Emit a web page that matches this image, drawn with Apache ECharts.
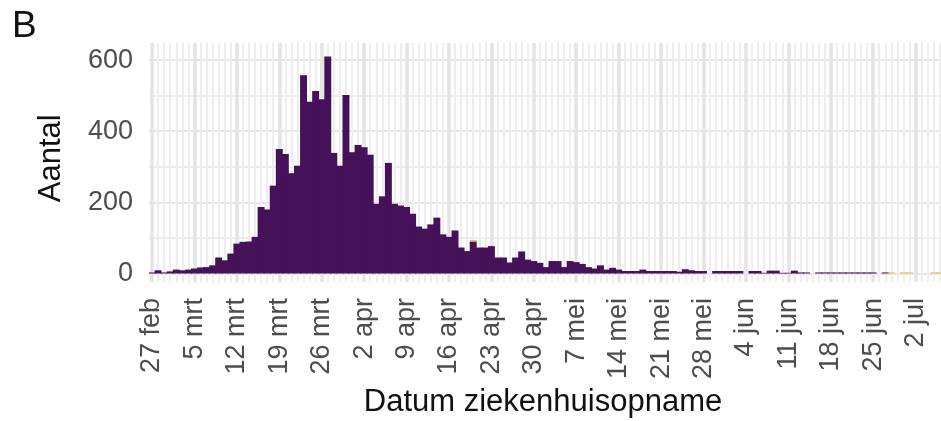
<!DOCTYPE html>
<html>
<head>
<meta charset="utf-8">
<script src="https://cdn.jsdelivr.net/npm/echarts@6/dist/echarts.min.js"></script>
<style>
  html, body { margin: 0; padding: 0; background: #fff; }
  #chart { width: 941px; height: 421px; }
</style>
</head>
<body>
<div id="chart"></div>
<script>
// daily hospital admissions, index 0 = 27 feb
const purple = [
  3, 9, 3, 6, 11, 9, 11, 14, 17, 18, 23, 45, 37, 56, 84, 89, 90, 103, 187, 180,
  247, 350, 336, 282, 303, 557, 483, 513, 490, 610, 339, 303, 502, 341, 361, 355, 334, 196, 217, 311,
  196, 191, 187, 168, 132, 126, 138, 157, 110, 103, 121, 73, 63, 90, 73, 73, 77, 45, 45, 31,
  45, 62, 39, 35, 30, 18, 35, 35, 18, 35, 32, 27, 18, 14, 23, 11, 16, 11, 7, 7,
  7, 11, 7, 7, 7, 7, 7, 5, 12, 9, 7, 7, 0, 7, 7, 7, 7, 7, 0, 7,
  7, 2, 8, 8, 2, 2, 8, 3, 3, 0, 3, 3, 3, 3, 3, 3, 3, 3, 3, 3,
  0, 3, 0, 0, 0, 0, 0, 0, 0, 0, 0
];
// not yet reported (orange)
const orange = [
  0, 0, 0, 0, 0, 0, 0, 0, 0, 0, 0, 0, 0, 0, 0, 0, 0, 0, 0, 0,
  0, 0, 0, 0, 0, 0, 0, 0, 0, 0, 0, 0, 0, 0, 0, 0, 0, 0, 0, 0,
  0, 0, 0, 0, 0, 0, 0, 0, 0, 0, 0, 0, 0, 4, 0, 0, 0, 0, 0, 0,
  0, 0, 0, 0, 0, 0, 0, 0, 0, 0, 0, 0, 0, 0, 0, 0, 0, 0, 0, 0,
  0, 0, 0, 0, 0, 0, 0, 0, 0, 0, 0, 0, 0, 0, 0, 0, 0, 0, 0, 0,
  0, 0, 0, 0, 0, 0, 0, 0, 0, 0, 0, 0, 0, 0, 0, 0, 0, 0, 0, 0,
  0, 0, 3, 0, 3, 3, 0, 0, 0, 3, 3
];
// one label per week, starting at day 0
const tickLabels = ['27 feb', '5 mrt', '12 mrt', '19 mrt', '26 mrt', '2 apr', '9 apr', '16 apr', '23 apr',
  '30 apr', '7 mei', '14 mei', '21 mei', '28 mei', '4 jun', '11 jun', '18 jun', '25 jun', '2 jul'];
const yTicks = [0, 200, 400, 600];

const font = 'Liberation Sans';
const dayPx = 6.06;
const nDays = 134; // panel runs a bit past the canvas edge

// category per day for the bars (extra empty days at the end)
const days = Array.from({ length: nDays }, (_, i) => i);
const blank = v => (v === 0 ? '-' : v);

const chart = echarts.init(document.getElementById('chart'));

chart.setOption({
  animation: false,
  graphic: [{
    type: 'text', left: 12, top: 8,
    style: { text: 'B', fontFamily: font, fontSize: 37, fill: '#111' }
  }],
  grid: [
    // bars + horizontal lines
    { left: 149, top: 43, width: nDays * dayPx, height: 230.5, outerBoundsMode: 'none' },
    // vertical lines + date labels (ticks at bar centres)
    { left: 149 + dayPx / 2, top: 43, width: (nDays - 1) * dayPx, height: 239, outerBoundsMode: 'none' }
  ],
  xAxis: [{
    gridIndex: 0, type: 'category', data: days, show: false
  }, {
    gridIndex: 1, type: 'value', min: 0, max: nDays - 1, interval: 7,
    axisLine: { show: false }, axisTick: { show: false },
    axisLabel: {
      rotate: 90, margin: 16, fontFamily: font, fontSize: 27, color: '#4d4d4d',
      formatter: v => tickLabels[v / 7] || ''
    },
    splitLine: { show: true, lineStyle: { color: '#e4e4e4', width: 3.5 } },
    minorTick: { show: false, splitNumber: 7 },
    minorSplitLine: { show: true, lineStyle: { color: '#eeeeee', width: 2 } },
    name: 'Datum ziekenhuisopname', nameLocation: 'middle', nameGap: 104,
    nameTextStyle: { fontFamily: font, fontSize: 31, color: '#111', padding: [0, 24, 0, 0] }
  }],
  yAxis: [{
    gridIndex: 0, type: 'value', min: 0, max: 648, interval: 100,
    axisLine: { show: false }, axisTick: { show: false },
    axisLabel: {
      margin: 16, fontFamily: font, fontSize: 27, color: '#4d4d4d',
      formatter: v => (yTicks.indexOf(v) >= 0 ? String(v) : '')
    },
    splitLine: {
      show: true,
      lineStyle: {
        width: 1.8,
        color: ['#e6e6e6', '#eeeeee', '#e6e6e6', '#eeeeee', '#e6e6e6', '#eeeeee', '#e6e6e6', 'rgba(0,0,0,0)']
      }
    },
    name: 'Aantal', nameLocation: 'middle', nameGap: 82,
    nameTextStyle: { fontFamily: font, fontSize: 31, color: '#111' }
  }, {
    gridIndex: 1, type: 'value', show: false
  }],
  series: [{
    type: 'bar', xAxisIndex: 0, yAxisIndex: 0, stack: 'all',
    barWidth: dayPx + 0.9,
    itemStyle: { color: '#451159' },
    data: purple.map(blank)
  }, {
    type: 'bar', xAxisIndex: 0, yAxisIndex: 0, stack: 'all',
    barWidth: dayPx + 0.9,
    itemStyle: { color: '#f3b43a' },
    data: orange.map(blank)
  }]
});
</script>
</body>
</html>
